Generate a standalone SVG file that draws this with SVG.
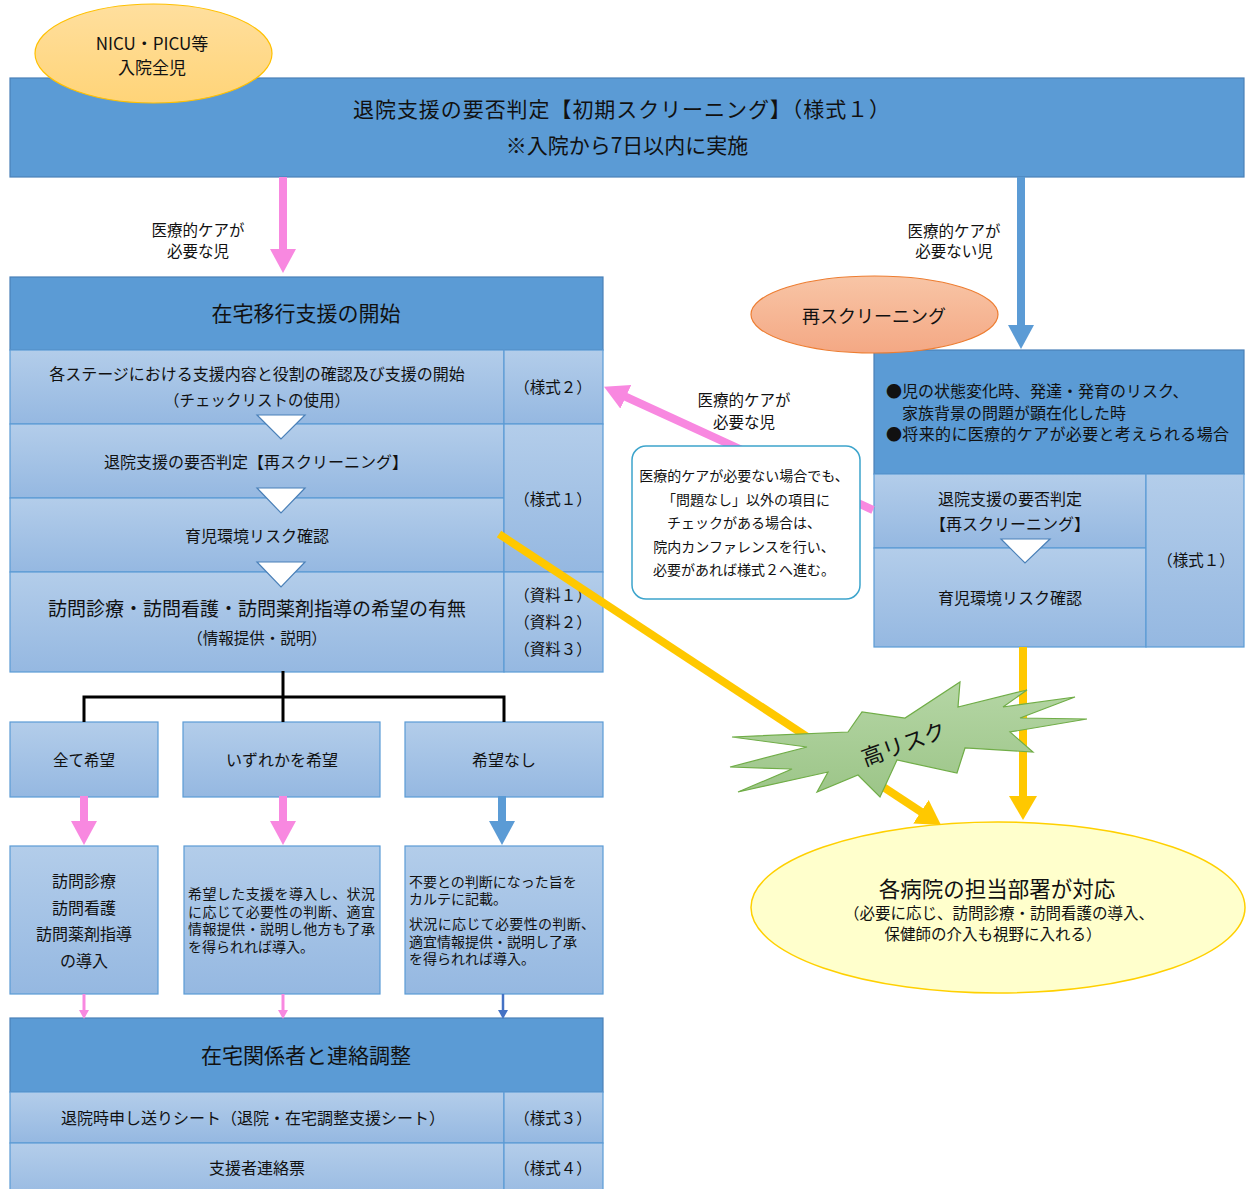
<svg xmlns="http://www.w3.org/2000/svg" width="1247" height="1189" viewBox="0 0 1247 1189">
<style>
text{font-family:"Noto Sans CJK JP","Noto Sans",sans-serif;fill:#111;dominant-baseline:central}
.c{text-anchor:middle}
.hdr{fill:#5b9bd5;stroke:#4a80b8;stroke-width:1.2}
.cell{fill:url(#lg);stroke:#5b9bd5;stroke-width:1.2}
.tri{fill:#fff;stroke:#4a80b8;stroke-width:1.2}
.f21{font-size:21px}.f20{font-size:21.5px}.f19{font-size:19px}.f18{font-size:18px}.f17{font-size:17px}.f16{font-size:16px}.f15{font-size:15.5px}.f14{font-size:14px}.f13{font-size:14px}
.pk{stroke:#f888e0;stroke-width:8;fill:none}
.bl{stroke:#5b9bd5;stroke-width:8;fill:none}
.yl{stroke:#ffc800;stroke-width:8;fill:none}
.bk{stroke:#000;stroke-width:3;fill:none}
</style>
<defs>
<linearGradient id="lg" x1="0" y1="0" x2="0" y2="1"><stop offset="0" stop-color="#b3cdea"/><stop offset="1" stop-color="#95b8e1"/></linearGradient>
<linearGradient id="gy" x1="0" y1="0" x2="0" y2="1"><stop offset="0" stop-color="#ffdf9e"/><stop offset="1" stop-color="#ffd478"/></linearGradient>
<linearGradient id="go" x1="0" y1="0" x2="0" y2="1"><stop offset="0" stop-color="#f8c5a6"/><stop offset="1" stop-color="#f4a884"/></linearGradient>
<linearGradient id="gg" x1="0" y1="0" x2="0" y2="1"><stop offset="0" stop-color="#b5d6a5"/><stop offset="1" stop-color="#9cc588"/></linearGradient>
<marker id="hp" markerUnits="userSpaceOnUse" markerWidth="24" markerHeight="26" refX="2" refY="13" orient="auto"><path d="M0,0 L24,13 L0,26 Z" fill="#f888e0"/></marker>
<marker id="hb" markerUnits="userSpaceOnUse" markerWidth="24" markerHeight="26" refX="2" refY="13" orient="auto"><path d="M0,0 L24,13 L0,26 Z" fill="#5b9bd5"/></marker>
<marker id="hy" markerUnits="userSpaceOnUse" markerWidth="24" markerHeight="28" refX="2" refY="14" orient="auto"><path d="M0,0 L24,14 L0,28 Z" fill="#ffc800"/></marker>
<marker id="sp" markerUnits="userSpaceOnUse" markerWidth="10" markerHeight="10" refX="1" refY="5" orient="auto"><path d="M0,0 L9,5 L0,10 Z" fill="#f888e0"/></marker>
<marker id="sb" markerUnits="userSpaceOnUse" markerWidth="10" markerHeight="10" refX="1" refY="5" orient="auto"><path d="M0,0 L9,5 L0,10 Z" fill="#4472c4"/></marker>
</defs>
<rect width="1247" height="1189" fill="#fff"/>

<g id="initial-screening">
<rect class="hdr" x="10" y="78" width="1234" height="99"/>
<text class="f21" x="353" y="108" textLength="537" lengthAdjust="spacing">退院支援の要否判定【初期スクリーニング】（様式１）</text>
<text class="c f21" x="627" y="144">※入院から7日以内に実施</text>
</g>
<g id="nicu">
<ellipse cx="153.5" cy="53.5" rx="118.5" ry="49.5" fill="url(#gy)" stroke="#ffc000" stroke-width="1.2"/>
<text class="c f17" x="152" y="42">NICU・PICU等</text>
<text class="c f17" x="152" y="66">入院全児</text>
</g>

<g id="home-transition">
<rect class="hdr" x="10" y="277" width="593" height="73"/>
<text class="c f21" x="306" y="312">在宅移行支援の開始</text>
<rect class="cell" x="10" y="350" width="494" height="74"/>
<rect class="cell" x="504" y="350" width="99" height="74"/>
<rect class="cell" x="10" y="424" width="494" height="74"/>
<rect class="cell" x="10" y="498" width="494" height="74"/>
<rect class="cell" x="504" y="424" width="99" height="148"/>
<rect class="cell" x="10" y="572" width="494" height="100"/>
<rect class="cell" x="504" y="572" width="99" height="100"/>
<text class="c f16" x="257" y="373">各ステージにおける支援内容と役割の確認及び支援の開始</text>
<text class="c f15" x="257" y="399">（チェックリストの使用）</text>
<text class="c f16" x="256" y="461">退院支援の要否判定【再スクリーニング】</text>
<text class="c f16" x="257" y="535">育児環境リスク確認</text>
<text class="c f19" x="257" y="607">訪問診療・訪問看護・訪問薬剤指導の希望の有無</text>
<text class="c f15" x="257" y="637">（情報提供・説明）</text>
<text class="c f15" x="553" y="386">（様式２）</text>
<text class="c f15" x="553" y="498">（様式１）</text>
<text class="c f15" x="553" y="594">（資料１）</text>
<text class="c f15" x="553" y="621">（資料２）</text>
<text class="c f15" x="553" y="648">（資料３）</text>
<polygon class="tri" points="257,415 305,415 281,439"/>
<polygon class="tri" points="257,488 305,488 281,513"/>
<polygon class="tri" points="257,562 305,562 281,587"/>
</g>

<g id="opt-all"><rect class="cell" x="10" y="722" width="148" height="75"/><text class="c f15" x="84" y="759">全て希望</text></g>
<g id="opt-any"><rect class="cell" x="183" y="722" width="197" height="75"/><text class="c f16" x="282" y="759">いずれかを希望</text></g>
<g id="opt-none"><rect class="cell" x="405" y="722" width="198" height="75"/><text class="c f16" x="504" y="759">希望なし</text></g>

<g id="res-all"><rect class="cell" x="10" y="846" width="148" height="148"/>
<text class="c f16" x="84" y="880">訪問診療</text><text class="c f16" x="84" y="907">訪問看護</text><text class="c f16" x="84" y="933">訪問薬剤指導</text><text class="c f16" x="84" y="960">の導入</text></g>
<g id="res-any"><rect class="cell" x="184" y="846" width="196" height="148"/>
<text class="f14" x="188" y="893" textLength="187" lengthAdjust="spacing">希望した支援を導入し、状況</text><text class="f14" x="188" y="911" textLength="187" lengthAdjust="spacing">に応じて必要性の判断、適宜</text><text class="f14" x="188" y="928" textLength="187" lengthAdjust="spacing">情報提供・説明し他方も了承</text><text class="f14" x="188" y="946">を得られれば導入。</text></g>
<g id="res-none"><rect class="cell" x="405" y="846" width="198" height="148"/>
<text class="f14" x="409" y="881">不要との判断になった旨を</text><text class="f14" x="409" y="898">カルテに記載。</text><text class="f14" x="409" y="923" textLength="186" lengthAdjust="spacing">状況に応じて必要性の判断、</text><text class="f14" x="409" y="941">適宜情報提供・説明し了承</text><text class="f14" x="409" y="958">を得られれば導入。</text></g>

<g id="coordination">
<rect class="hdr" x="10" y="1018" width="593" height="74"/>
<text class="c f21" x="306" y="1054">在宅関係者と連絡調整</text>
<rect class="cell" x="10" y="1092" width="494" height="51"/>
<rect class="cell" x="504" y="1092" width="99" height="51"/>
<rect class="cell" x="10" y="1143" width="494" height="60"/>
<rect class="cell" x="504" y="1143" width="99" height="60"/>
<text class="c f16" x="253" y="1117">退院時申し送りシート（退院・在宅調整支援シート）</text>
<text class="c f15" x="553" y="1117">（様式３）</text>
<text class="c f16" x="257" y="1167">支援者連絡票</text>
<text class="c f15" x="553" y="1167">（様式４）</text>
</g>

<g id="rescreen-box">
<rect class="hdr" x="874" y="350" width="370" height="124"/>
<text class="f16" x="886" y="390">●児の状態変化時、発達・発育のリスク、</text>
<text class="f16" x="902" y="412">家族背景の問題が顕在化した時</text>
<text class="f16" x="886" y="433" textLength="343" lengthAdjust="spacing">●将来的に医療的ケアが必要と考えられる場合</text>
<rect class="cell" x="874" y="474" width="272" height="74"/>
<rect class="cell" x="874" y="548" width="272" height="99"/>
<rect class="cell" x="1146" y="474" width="98" height="173"/>
<text class="c f16" x="1010" y="498">退院支援の要否判定</text>
<text class="c f16" x="1010" y="523">【再スクリーニング】</text>
<text class="c f16" x="1010" y="597">育児環境リスク確認</text>
<text class="c f15" x="1196" y="559">（様式１）</text>
<polygon class="tri" points="1001,539 1050,539 1025,563"/>
</g>
<g id="rescreen-label">
<ellipse cx="874.5" cy="314.5" rx="123.5" ry="38.5" fill="url(#go)" stroke="#ed7d31" stroke-width="1.2"/>
<text class="c f18" x="874" y="315">再スクリーニング</text>
</g>

<g id="hospital">
<ellipse cx="998" cy="907.5" rx="247" ry="85.5" fill="#ffffcc" stroke="#ffd000" stroke-width="1.5"/>
<text class="c f20" x="997" y="887">各病院の担当部署が対応</text>
<text class="c f15" x="999" y="912">（必要に応じ、訪問診療・訪問看護の導入、</text>
<text class="c f15" x="993" y="933">保健師の介入も視野に入れる）</text>
</g>

<g id="connectors">
<line class="pk" x1="283" y1="177" x2="283" y2="251" marker-end="url(#hp)"/>
<line class="bl" x1="1021" y1="177" x2="1021" y2="327" marker-end="url(#hb)"/>
<line class="pk" x1="873" y1="510" x2="624" y2="396" marker-end="url(#hp)"/>
<polyline class="bk" points="283,671 283,722"/>
<polyline class="bk" points="84,722 84,697 504,697 504,722"/>
<line class="pk" x1="84" y1="796" x2="84" y2="823" marker-end="url(#hp)"/>
<line class="pk" x1="283" y1="796" x2="283" y2="823" marker-end="url(#hp)"/>
<line class="bl" x1="502" y1="796" x2="502" y2="823" marker-end="url(#hb)"/>
<line x1="84" y1="994" x2="84" y2="1011" stroke="#f888e0" stroke-width="3" marker-end="url(#sp)"/>
<line x1="283" y1="994" x2="283" y2="1011" stroke="#f888e0" stroke-width="3" marker-end="url(#sp)"/>
<line x1="503" y1="994" x2="503" y2="1011" stroke="#4472c4" stroke-width="2.5" marker-end="url(#sb)"/>
<line class="yl" x1="499" y1="534" x2="922.6" y2="812.9" marker-end="url(#hy)"/>
<line class="yl" x1="1023" y1="647" x2="1023" y2="798" marker-end="url(#hy)"/>
</g>

<g id="labels">
<text class="c f15" x="744" y="399">医療的ケアが</text>
<text class="c f15" x="744" y="421">必要な児</text>
<text class="c f15" x="198" y="229">医療的ケアが</text>
<text class="c f15" x="198" y="250">必要な児</text>
<text class="c f15" x="954" y="230">医療的ケアが</text>
<text class="c f15" x="954" y="250">必要ない児</text>
</g>

<g id="callout">
<rect x="632" y="446" width="228" height="153" rx="14" fill="#fff" stroke="#3ca4cc" stroke-width="1.5"/>
<text class="c f13" x="744" y="475">医療的ケアが必要ない場合でも、</text>
<text class="c f13" x="746" y="499">「問題なし」以外の項目に</text>
<text class="c f13" x="744" y="522">チェックがある場合は、</text>
<text class="c f13" x="744" y="546">院内カンファレンスを行い、</text>
<text class="c f13" x="744" y="569">必要があれば様式２へ進む。</text>
</g>

<g id="high-risk">
<polygon points="732,737 807,747 730,767 792,769 738,792 828,772 817,792 858,775 880,797 897,760 957,773 965,748 1033,752 1010,732 1087,719 1020,718 1075,697 1003,707 1027,690 958,707 960,682 905,718 862,712 848,732" fill="url(#gg)" stroke="#70ad47" stroke-width="1.2"/>
<text class="c" x="903" y="742" font-size="22" transform="rotate(-20 903 742)">高リスク</text>
</g>
</svg>
